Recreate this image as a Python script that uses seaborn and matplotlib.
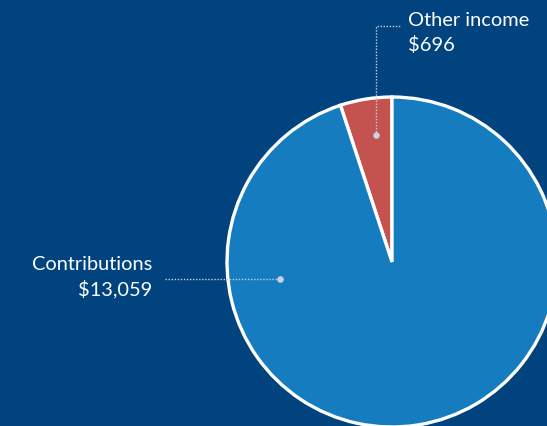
import numpy as np
import matplotlib
matplotlib.use("Agg")
import matplotlib.pyplot as plt
import seaborn as sns

labels = ['Other income', 'Contributions']
values = [696, 13059]
value_text = ['$696', '$13,059']
colors = ['#C4524F', '#167CC0']

bg = '#00437F'
sns.set_style('dark', {'axes.facecolor': bg, 'figure.facecolor': bg})
plt.rcParams['font.family'] = ['Lato', 'DejaVu Sans']

W, H = 547, 426
fig = plt.figure(figsize=(W / 100, H / 100), dpi=100)
ax = fig.add_axes([0, 0, 1, 1])
ax.set_facecolor(bg)

# pixel-like coordinates, y measured from the bottom
cx, cy, r = 392, H - 262, 165
ax.pie(values, colors=colors, startangle=90, counterclock=True,
       center=(cx, cy), radius=r,
       wedgeprops={'edgecolor': 'white', 'linewidth': 2.4})
ax.set_xlim(0, W)
ax.set_ylim(0, H)
ax.set_aspect('equal')
ax.axis('off')

line_col = '#C9D2DE'
fs = 14.4
# Other income leader
ax.plot([376, 376, 400], [H - 135, H - 26, H - 26], ls=(0, (1, 1.2)),
        color=line_col, lw=1)
ax.scatter([376], [H - 135], s=14, color=line_col, zorder=5)
ax.text(408, H - 20, labels[0], color='white', fontsize=fs, ha='left', va='center')
ax.text(408, H - 45, value_text[0], color='white', fontsize=fs, ha='left', va='center')

# Contributions leader
ax.plot([165, 280], [H - 279, H - 279], ls=(0, (1, 1.2)), color=line_col, lw=1)
ax.scatter([280], [H - 279], s=14, color=line_col, zorder=5)
ax.text(152, H - 265, labels[1], color='white', fontsize=fs, ha='right', va='center')
ax.text(152, H - 289, value_text[1], color='white', fontsize=fs, ha='right', va='center')

fig.savefig('out.png', dpi=100, facecolor=bg)
